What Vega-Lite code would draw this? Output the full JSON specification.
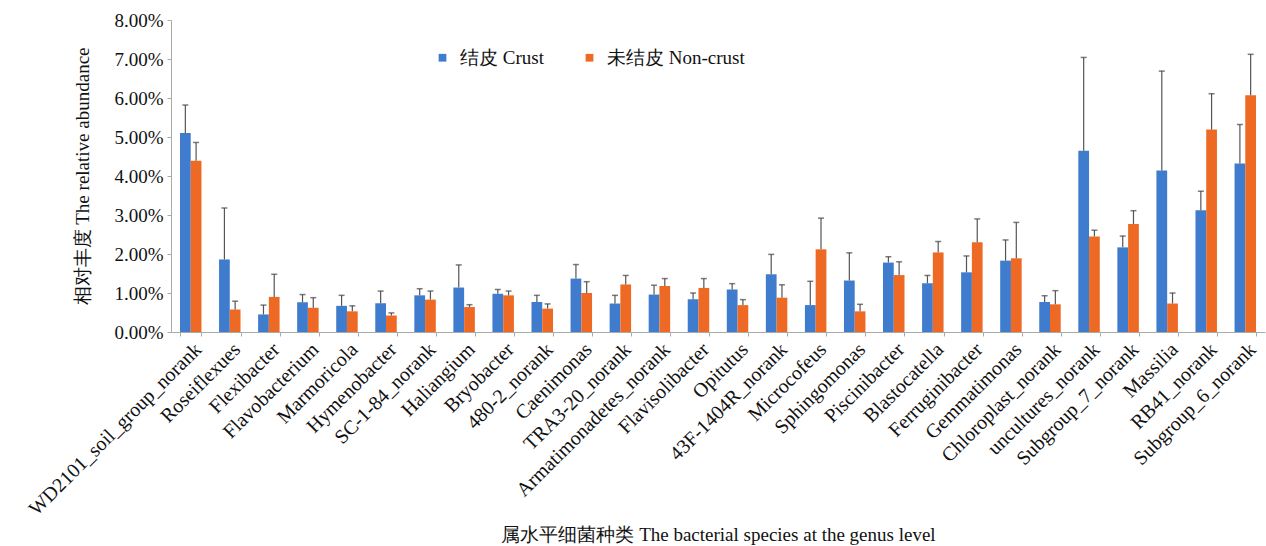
{
  "$schema": "https://vega.github.io/schema/vega-lite/v6.json",
  "width": 1094,
  "height": 312,
  "autosize": {"type": "none"},
  "padding": {"left": 171, "top": 20, "right": 1, "bottom": 214},
  "background": "white",
  "config": {
    "view": {"stroke": null},
    "font": "Liberation Serif",
    "axis": {"grid": false, "labelColor": "#111", "titleColor": "#111", "domainColor": "#aaa", "tickColor": "#aaa"},
    "axisY": {"labelOverlap": false}
  },
  "data": {
    "values": [
      {"genus": "WD2101_soil_group_norank", "group": "结皮 Crust", "mean": 5.10, "upper": 5.82},
      {"genus": "WD2101_soil_group_norank", "group": "未结皮 Non-crust", "mean": 4.39, "upper": 4.86},
      {"genus": "Roseiflexues", "group": "结皮 Crust", "mean": 1.86, "upper": 3.18},
      {"genus": "Roseiflexues", "group": "未结皮 Non-crust", "mean": 0.58, "upper": 0.79},
      {"genus": "Flexibacter", "group": "结皮 Crust", "mean": 0.45, "upper": 0.69},
      {"genus": "Flexibacter", "group": "未结皮 Non-crust", "mean": 0.90, "upper": 1.48},
      {"genus": "Flavobacterium", "group": "结皮 Crust", "mean": 0.76, "upper": 0.96},
      {"genus": "Flavobacterium", "group": "未结皮 Non-crust", "mean": 0.62, "upper": 0.88},
      {"genus": "Marmoricola", "group": "结皮 Crust", "mean": 0.67, "upper": 0.94},
      {"genus": "Marmoricola", "group": "未结皮 Non-crust", "mean": 0.53, "upper": 0.67},
      {"genus": "Hymenobacter", "group": "结皮 Crust", "mean": 0.74, "upper": 1.05},
      {"genus": "Hymenobacter", "group": "未结皮 Non-crust", "mean": 0.42, "upper": 0.49},
      {"genus": "SC-1-84_norank", "group": "结皮 Crust", "mean": 0.94, "upper": 1.11},
      {"genus": "SC-1-84_norank", "group": "未结皮 Non-crust", "mean": 0.83, "upper": 1.05},
      {"genus": "Haliangium", "group": "结皮 Crust", "mean": 1.14, "upper": 1.72},
      {"genus": "Haliangium", "group": "未结皮 Non-crust", "mean": 0.64, "upper": 0.70},
      {"genus": "Bryobacter", "group": "结皮 Crust", "mean": 0.98, "upper": 1.09},
      {"genus": "Bryobacter", "group": "未结皮 Non-crust", "mean": 0.94, "upper": 1.05},
      {"genus": "480-2_norank", "group": "结皮 Crust", "mean": 0.77, "upper": 0.94},
      {"genus": "480-2_norank", "group": "未结皮 Non-crust", "mean": 0.60, "upper": 0.72},
      {"genus": "Caenimonas", "group": "结皮 Crust", "mean": 1.37, "upper": 1.73},
      {"genus": "Caenimonas", "group": "未结皮 Non-crust", "mean": 1.00, "upper": 1.29},
      {"genus": "TRA3-20_norank", "group": "结皮 Crust", "mean": 0.73, "upper": 0.94},
      {"genus": "TRA3-20_norank", "group": "未结皮 Non-crust", "mean": 1.22, "upper": 1.45},
      {"genus": "Armatimonadetes_norank", "group": "结皮 Crust", "mean": 0.96, "upper": 1.20},
      {"genus": "Armatimonadetes_norank", "group": "未结皮 Non-crust", "mean": 1.18, "upper": 1.37},
      {"genus": "Flavisolibacter", "group": "结皮 Crust", "mean": 0.84, "upper": 1.00},
      {"genus": "Flavisolibacter", "group": "未结皮 Non-crust", "mean": 1.13, "upper": 1.37},
      {"genus": "Opitutus", "group": "结皮 Crust", "mean": 1.09, "upper": 1.24},
      {"genus": "Opitutus", "group": "未结皮 Non-crust", "mean": 0.69, "upper": 0.83},
      {"genus": "43F-1404R_norank", "group": "结皮 Crust", "mean": 1.48, "upper": 1.99},
      {"genus": "43F-1404R_norank", "group": "未结皮 Non-crust", "mean": 0.88, "upper": 1.21},
      {"genus": "Microcofeus", "group": "结皮 Crust", "mean": 0.69, "upper": 1.30},
      {"genus": "Microcofeus", "group": "未结皮 Non-crust", "mean": 2.12, "upper": 2.92},
      {"genus": "Sphingomonas", "group": "结皮 Crust", "mean": 1.32, "upper": 2.03},
      {"genus": "Sphingomonas", "group": "未结皮 Non-crust", "mean": 0.53, "upper": 0.71},
      {"genus": "Piscinibacter", "group": "结皮 Crust", "mean": 1.78, "upper": 1.93},
      {"genus": "Piscinibacter", "group": "未结皮 Non-crust", "mean": 1.46, "upper": 1.80},
      {"genus": "Blastocatella", "group": "结皮 Crust", "mean": 1.25, "upper": 1.45},
      {"genus": "Blastocatella", "group": "未结皮 Non-crust", "mean": 2.04, "upper": 2.32},
      {"genus": "Ferruginibacter", "group": "结皮 Crust", "mean": 1.53, "upper": 1.95},
      {"genus": "Ferruginibacter", "group": "未结皮 Non-crust", "mean": 2.30, "upper": 2.90},
      {"genus": "Gemmatimonas", "group": "结皮 Crust", "mean": 1.83, "upper": 2.36},
      {"genus": "Gemmatimonas", "group": "未结皮 Non-crust", "mean": 1.89, "upper": 2.81},
      {"genus": "Chloroplast_norank", "group": "结皮 Crust", "mean": 0.77, "upper": 0.93},
      {"genus": "Chloroplast_norank", "group": "未结皮 Non-crust", "mean": 0.71, "upper": 1.06},
      {"genus": "uncultures_norank", "group": "结皮 Crust", "mean": 4.65, "upper": 7.04},
      {"genus": "uncultures_norank", "group": "未结皮 Non-crust", "mean": 2.45, "upper": 2.61},
      {"genus": "Subgroup_7_norank", "group": "结皮 Crust", "mean": 2.17, "upper": 2.46},
      {"genus": "Subgroup_7_norank", "group": "未结皮 Non-crust", "mean": 2.77, "upper": 3.11},
      {"genus": "Massilia", "group": "结皮 Crust", "mean": 4.14, "upper": 6.69},
      {"genus": "Massilia", "group": "未结皮 Non-crust", "mean": 0.73, "upper": 1.00},
      {"genus": "RB41_norank", "group": "结皮 Crust", "mean": 3.12, "upper": 3.61},
      {"genus": "RB41_norank", "group": "未结皮 Non-crust", "mean": 5.19, "upper": 6.11},
      {"genus": "Subgroup_6_norank", "group": "结皮 Crust", "mean": 4.32, "upper": 5.32},
      {"genus": "Subgroup_6_norank", "group": "未结皮 Non-crust", "mean": 6.07, "upper": 7.12}
    ]
  },
  "encoding": {
    "x": {
      "field": "genus",
      "type": "nominal",
      "sort": null,
      "scale": {"paddingInner": 0.45, "paddingOuter": 0.23},
      "axis": {
        "title": "属水平细菌种类 The bacterial species at the genus level",
        "titleFontSize": 19,
        "titleFontWeight": "normal",
        "titlePadding": 7,
        "labelAngle": -45,
        "labelFontSize": 20,
        "labelPadding": 3,
        "labelLimit": 400,
        "tickBand": "extent",
        "tickSize": 4,
        "labelOverlap": false
      }
    },
    "xOffset": {"field": "group", "type": "nominal", "sort": ["结皮 Crust", "未结皮 Non-crust"], "scale": {"paddingInner": 0}}
  },
  "layer": [
    {
      "mark": {"type": "bar"},
      "encoding": {
        "y": {
          "field": "mean",
          "type": "quantitative",
          "scale": {"domain": [0, 8], "nice": false},
          "axis": {
            "title": "相对丰度 The relative abundance",
            "titleFontSize": 19,
            "titleFontWeight": "normal",
            "titlePadding": 21,
            "labelFontSize": 19,
            "labelExpr": "format(datum.value / 100, '.2%')",
            "values": [0, 1, 2, 3, 4, 5, 6, 7, 8],
            "labelOverlap": false,
            "tickSize": 4,
            "labelPadding": 4
          }
        },
        "color": {
          "field": "group",
          "type": "nominal",
          "sort": ["结皮 Crust", "未结皮 Non-crust"],
          "scale": {"domain": ["结皮 Crust", "未结皮 Non-crust"], "range": ["#3f7ccd", "#ee6a24"]},
          "legend": {
            "title": null,
            "orient": "none",
            "direction": "horizontal",
            "legendX": 262,
            "legendY": 28,
            "symbolType": "square",
            "symbolSize": 60,
            "labelFontSize": 19,
            "labelColor": "#111",
            "columnPadding": 36,
            "labelOffset": 8
          }
        }
      }
    },
    {
      "mark": {"type": "rule", "color": "#555", "strokeWidth": 1.2},
      "encoding": {
        "y": {
          "field": "mean",
          "type": "quantitative",
          "axis": {
            "title": "相对丰度 The relative abundance",
            "titleFontSize": 19,
            "titleFontWeight": "normal",
            "titlePadding": 21,
            "labelFontSize": 19,
            "labelExpr": "format(datum.value / 100, '.2%')",
            "values": [0, 1, 2, 3, 4, 5, 6, 7, 8],
            "labelOverlap": false,
            "tickSize": 4,
            "labelPadding": 4
          }
        },
        "y2": {"field": "upper"}
      }
    },
    {
      "mark": {"type": "tick", "color": "#444", "thickness": 1.5, "size": 6},
      "encoding": {
        "y": {
          "field": "upper",
          "type": "quantitative",
          "axis": {
            "title": "相对丰度 The relative abundance",
            "titleFontSize": 19,
            "titleFontWeight": "normal",
            "titlePadding": 21,
            "labelFontSize": 19,
            "labelExpr": "format(datum.value / 100, '.2%')",
            "values": [0, 1, 2, 3, 4, 5, 6, 7, 8],
            "labelOverlap": false,
            "tickSize": 4,
            "labelPadding": 4
          }
        }
      }
    }
  ]
}
